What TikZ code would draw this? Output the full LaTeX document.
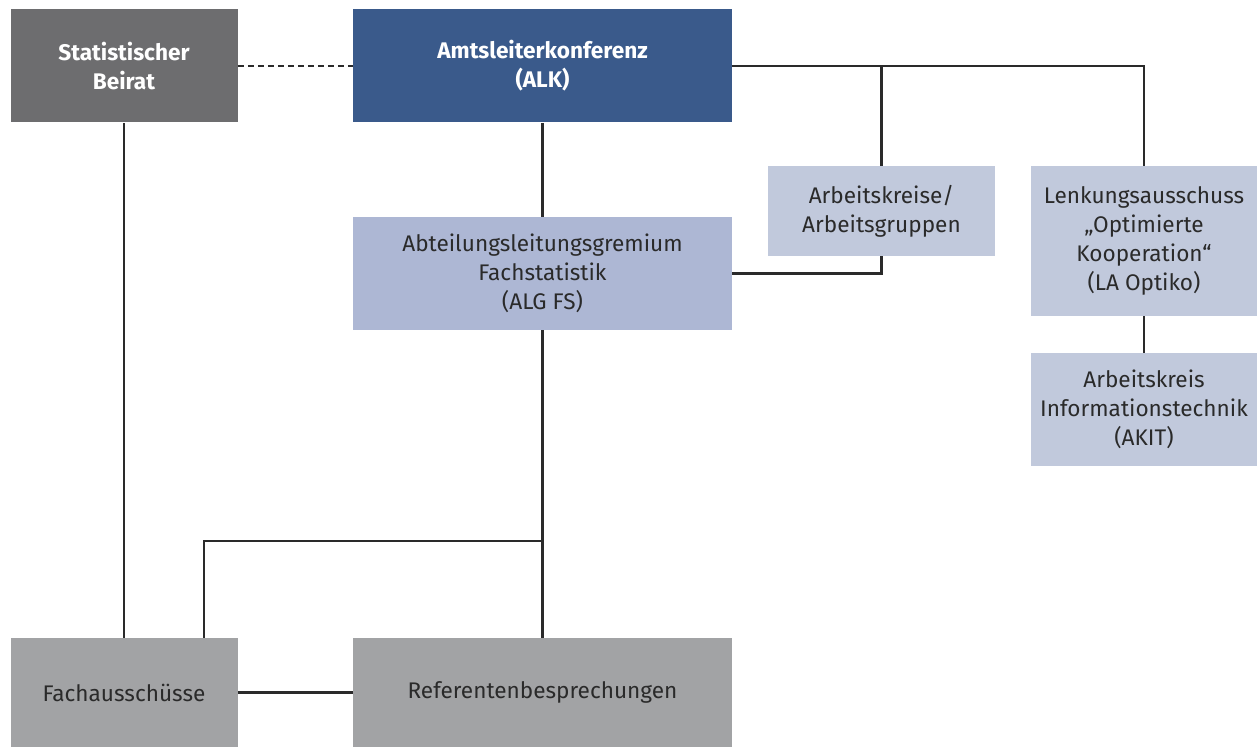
\documentclass[tikz,border=0pt]{standalone}
\usepackage{fontspec}
\setmainfont{Fira Sans}
\definecolor{beiratgray}{HTML}{6D6D6F}
\definecolor{alkblue}{HTML}{3A5A8B}
\definecolor{algblue}{HTML}{ADB7D4}
\definecolor{paleblue}{HTML}{C1C9DC}
\definecolor{boxgray}{HTML}{A2A3A5}
\definecolor{txtdark}{HTML}{2A2A2A}
\begin{document}
\begin{tikzpicture}
  [x=0.5pt,y=-0.5pt,
   every node/.style={rectangle,inner sep=0pt,align=center,
     font=\fontsize{11.3}{14.4}\selectfont,text=txtdark},
   org/.style={minimum width=#1*0.5pt},
   darkbox/.style={fill=#1,text=white,font=\fontsize{11.3}{14.6}\selectfont\bfseries},
   link/.style={line width=1.1pt,draw=txtdark}]
  \useasboundingbox (0,0) rectangle (1257,747);
  \node[darkbox=beiratgray,org=227,minimum height=56.5pt] (beirat) at (124,66) {Statistischer\\Beirat};
  \node[darkbox=alkblue,org=379,minimum height=56.5pt] (alk) at (542.5,66) {Amtsleiterkonferenz\\(ALK)};
  \node[fill=algblue,org=379,minimum height=56.5pt] (alg) at (542.5,273.5) {Abteilungsleitungsgremium\\Fachstatistik\\(ALG FS)};
  \node[fill=paleblue,org=227,minimum height=45pt] (ak) at (881.5,211) {Arbeitskreise/\\Arbeitsgruppen};
  \node[fill=paleblue,org=226,minimum height=75pt] (lenk) at (1144,241) {Lenkungsausschuss\\„Optimierte\\Kooperation“\\(LA Optiko)};
  \node[fill=paleblue,org=226,minimum height=56.5pt] (akit) at (1144,409.5) {Arbeitskreis\\Informationstechnik\\(AKIT)};
  \node[fill=boxgray,org=227,minimum height=54.5pt] (fa) at (124,692.5) {Fachausschüsse};
  \node[fill=boxgray,org=379,minimum height=54.5pt] (ref) at (542.5,692.5) {Referentenbesprechungen};
  \coordinate (jn) at (542,541);

  \draw[link,dash pattern=on 3pt off 2pt] (beirat) -- (alk);
  \draw[link] (alk.east) -| (lenk.north);
  \draw[link] (ak.north) -- (ak.north |- alk.east);
  \draw[link] (alg.east) -| (ak.south);
  \foreach \from/\to in {alk/alg,lenk/akit,beirat/fa,alg/ref,fa/ref}
    \draw[link] (\from) -- (\to);
  \draw[link] (jn) -| ([xshift=40pt]fa.north);
\end{tikzpicture}
\end{document}
